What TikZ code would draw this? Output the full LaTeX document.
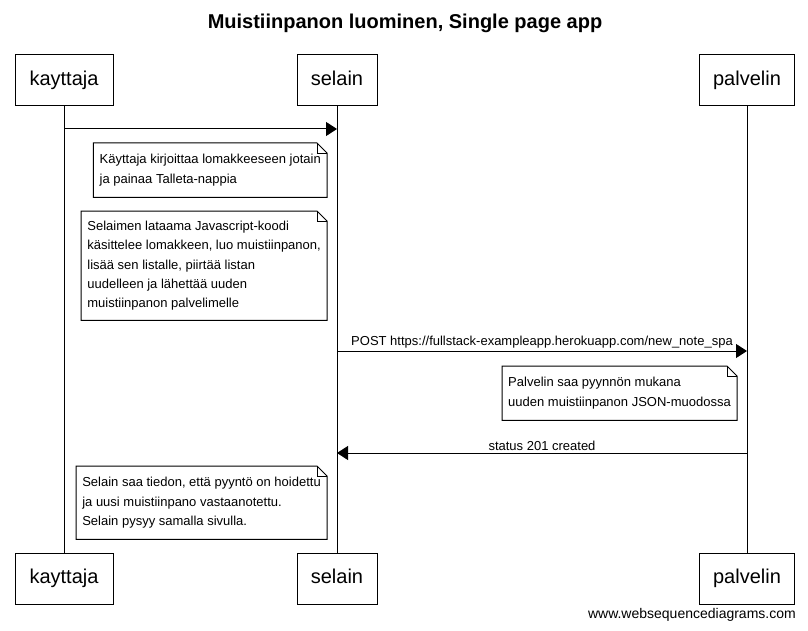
\documentclass[tikz,border=0pt]{standalone}
\usepackage{fontspec}
\setmainfont{Liberation Sans}
\usetikzlibrary{arrows.meta, positioning}
\tikzset{
	actor/.style   ={rectangle, draw=black, line width=1pt, minimum height=51pt, inner sep=0pt, text height=14pt, text depth=4pt, font=\fontsize{20}{24}\selectfont},
	note/.style    ={rectangle, anchor=north east, align=left, inner xsep=6pt, inner ysep=0pt, font=\fontsize{13}{19.3}\selectfont},
	msg/.style     ={-{Triangle[length=11pt, width=14pt]}, line width=1pt},
	msglabel/.style={font=\fontsize{13}{15}\selectfont, inner sep=2pt},
	lifeline/.style={line width=1pt},
}
% note with folded corner
\newcommand{\dogear}[1]{%
	\draw[line width=1pt] (#1.south west) -- (#1.north west) -- ([xshift=-10pt]#1.north east) -- ([yshift=-10pt]#1.north east) -- (#1.south east) -- cycle;
	\draw[line width=0.6pt] ([xshift=-10pt]#1.north east) -- ([xshift=-10pt, yshift=-10pt]#1.north east) -- ([yshift=-10pt]#1.north east);
}

\begin{document}
\begin{tikzpicture}[x=1pt, y=-1pt]
	\useasboundingbox (0,0) rectangle (808,631);
	\node[font=\bfseries\fontsize{20}{24}\selectfont] (title) at (405,23) {Muistiinpanon luominen, Single page app};
	\node[actor, minimum width=98pt] (kayttaja) at (64,80.5) {kayttaja};
	\node[actor, minimum width=80pt] (selain) at (337,80.5) {selain};
	\node[actor, minimum width=95pt] (palvelin) at (747,80.5) {palvelin};
	\node[actor, minimum width=98pt] (kayttajaB) at (64,578.5) {kayttaja};
	\node[actor, minimum width=80pt] (selainB) at (337,578.5) {selain};
	\node[actor, minimum width=95pt] (palvelinB) at (747,578.5) {palvelin};
	\draw[lifeline] (kayttaja) -- (kayttajaB);
	\draw[lifeline] (selain) -- (selainB);
	\draw[lifeline] (palvelin) -- (palvelinB);
	\coordinate (m1) at (0,129);
	\coordinate (m2) at (0,351);
	\coordinate (m3) at (0,453);
	\draw[msg] (kayttaja.south |- m1) -- (selain.south |- m1);
	\node[note, minimum height=54pt] (n1) at (327,143) {Käyttaja kirjoittaa lomakkeeseen jotain\\ja painaa Talleta-nappia};
	\dogear{n1}
	\node[note, minimum height=109pt] (n2) at (327,211) {Selaimen lataama Javascript-koodi\\käsittelee lomakkeen, luo muistiinpanon,\\lisää sen listalle, piirtää listan\\uudelleen ja lähettää uuden\\muistiinpanon palvelimelle};
	\dogear{n2}
	\draw[msg] (selain.south |- m2) -- node[msglabel, above] (l2) {POST https://fullstack-exampleapp.herokuapp.com/new\_note\_spa} (palvelin.south |- m2);
	\node[note, minimum height=54pt] (n3) at (737,366) {Palvelin saa pyynnön mukana\\uuden muistiinpanon JSON-muodossa};
	\dogear{n3}
	\draw[msg] (palvelin.south |- m3) -- node[msglabel, above] (l3) {status 201 created} (selain.south |- m3);
	\node[note, minimum height=73pt] (n4) at (327,466) {Selain saa tiedon, että pyyntö on hoidettu\\ja uusi muistiinpano vastaanotettu.\\Selain pysyy samalla sivulla.};
	\dogear{n4}
	\node[anchor=east, font=\fontsize{14}{16}\selectfont, inner sep=0pt] (footer) at (796,615) {www.websequencediagrams.com};
\end{tikzpicture}
\end{document}
